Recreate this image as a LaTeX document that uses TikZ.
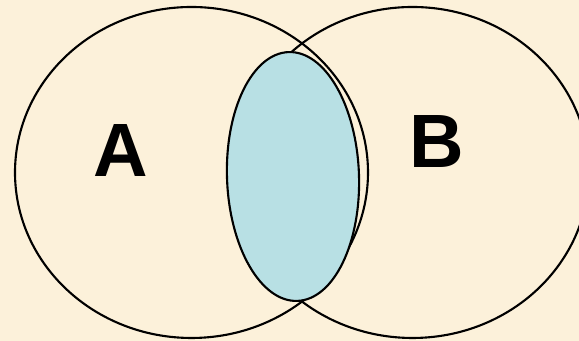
\documentclass[tikz,border=0pt]{standalone}
\usepackage{xcolor}
\usepackage{fontspec}
\setmainfont{Liberation Sans}
\usepackage{tikz}

\definecolor{fondo}{HTML}{FCF1DA}
\definecolor{celeste}{HTML}{B8E0E4}

\begin{document}
\begin{tikzpicture}[scale=1]

% Fondo (fija también el tamaño)
\clip (0,0) rectangle (5.79,3.41);
\fill[fondo] (0,0) rectangle (5.79,3.41);

% Conjuntos A y B
\draw[line width=0.6pt] (1.915,1.685) ellipse (1.765 and 1.655);
\draw[line width=0.6pt] (4.125,1.685) ellipse (1.765 and 1.655);

% Región sombreada
\filldraw[fill=celeste, line width=0.6pt, rotate around={2:(2.93,1.645)}] (2.93,1.645) ellipse (0.66 and 1.245);

% Etiquetas
\node (labelA) at (1.21,1.905) [inner sep=0pt] {\fontsize{21.5}{24}\selectfont\bfseries A};
\node (labelB) at (4.365,1.99) [inner sep=0pt] {\fontsize{21.5}{24}\selectfont\bfseries B};

\end{tikzpicture}
\end{document}
